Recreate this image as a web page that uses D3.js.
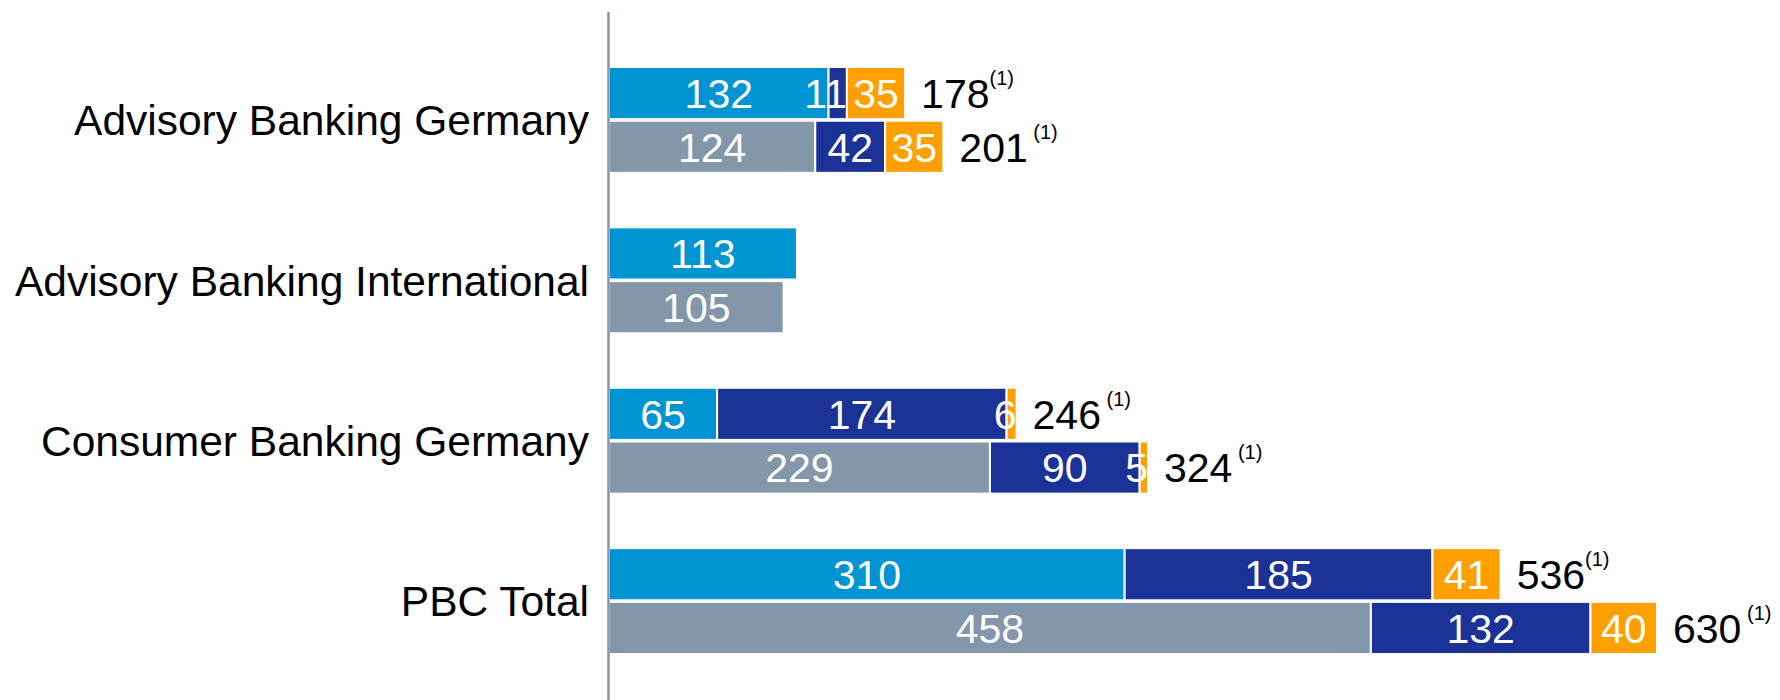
<!DOCTYPE html>
<html>
<head>
<meta charset="utf-8">
<style>
body { margin: 0; background: #fff; }
svg { display: block; font-family: "Liberation Sans", Arial, sans-serif; }
.total { white-space: pre; }
</style>
</head>
<body>
<svg width="1780" height="700"></svg>

<script src="https://d3js.org/d3.v7.min.js"></script>
<script>

// categories, top to bottom
var categories = ["Advisory Banking Germany", "Advisory Banking International", "Consumer Banking Germany", "PBC Total"];
var rows = ["upper", "lower"];
var keys = ["first", "second", "third"];

// upper bar of each pair
var upperFirst  = [132, 113, 65, 310];
var upperSecond = [11, null, 174, 185];
var upperThird  = [35, null, 6, 41];
var upperTotals = ["178", null, "246", "536"];
var upperNotes  = ["(1)", null, " (1)", "(1)"];

// lower bar of each pair
var lowerFirst  = [124, 105, 229, 458];
var lowerSecond = [42, null, 90, 132];
var lowerThird  = [35, null, 5, 40];
var lowerTotals = ["201", null, "324", "630"];
var lowerNotes  = [" (1)", null, " (1)", " (1)"];

var colors = {
  upper: { first: "#0094D3", second: "#1B3296", third: "#FFA000" },
  lower: { first: "#8497AA", second: "#1B3296", third: "#FFA000" }
};

var table = [];
categories.forEach(function(c, i) {
  table.push({ cat: c, row: "upper", first: upperFirst[i], second: upperSecond[i], third: upperThird[i],
               total: upperTotals[i], note: upperNotes[i] });
  table.push({ cat: c, row: "lower", first: lowerFirst[i], second: lowerSecond[i], third: lowerThird[i],
               total: lowerTotals[i], note: lowerNotes[i] });
});

var svg = d3.select("svg");

var x = d3.scaleLinear().domain([0, 630]).range([609, 1657]);

var y0 = d3.scaleBand().domain(categories).range([67, 654]).paddingInner(0.34).paddingOuter(0);
var y1 = d3.scaleBand().domain(rows).range([0, y0.bandwidth()]).paddingInner(0.03);

var stack = d3.stack().keys(keys).value(function(d, k) { return d[k] || 0; });
var series = stack(table);

// segments
var segs = [];
series.forEach(function(s) {
  s.forEach(function(p) {
    var v = p.data[s.key];
    if (v == null) return;
    segs.push({ key: s.key, row: p.data.row, cat: p.data.cat, v: v, x0: p[0], x1: p[1] });
  });
});

var g = svg.append("g");

g.selectAll("rect")
  .data(segs)
  .enter().append("rect")
  .attr("x", function(d) { return x(d.x0); })
  .attr("width", function(d) { return x(d.x1) - x(d.x0); })
  .attr("y", function(d) { return y0(d.cat) + y1(d.row); })
  .attr("height", y1.bandwidth())
  .attr("fill", function(d) { return colors[d.row][d.key]; })
  .attr("stroke", "#fff")
  .attr("stroke-width", 2);

// value labels inside segments
g.selectAll("text.val")
  .data(segs)
  .enter().append("text")
  .attr("class", "val")
  .attr("x", function(d) { return (x(d.x0) + x(d.x1)) / 2; })
  .attr("y", function(d) { return y0(d.cat) + y1(d.row) + y1.bandwidth() / 2; })
  .attr("dy", "0.36em")
  .attr("text-anchor", "middle")
  .attr("font-size", 41)
  .attr("fill", "#fff")
  .text(function(d) { return d.v; })
  .each(function(d) {
    // narrow segments: label sits flush with the segment's right end
    var w = this.getComputedTextLength();
    if (w > x(d.x1) - x(d.x0)) {
      d3.select(this).attr("text-anchor", "end").attr("x", x(d.x1));
    }
  });

// totals with footnote mark
var tot = g.selectAll("text.total")
  .data(table.filter(function(d) { return d.total != null; }))
  .enter().append("text")
  .attr("class", "total")
  .attr("x", function(d) { return x((d.first || 0) + (d.second || 0) + (d.third || 0)) + 16; })
  .attr("y", function(d) { return y0(d.cat) + y1(d.row) + y1.bandwidth() / 2; })
  .attr("font-size", 41)
  .attr("fill", "#000");

tot.append("tspan")
  .attr("dy", "0.36em")
  .text(function(d) { return d.total; });

tot.append("tspan")
  .attr("dy", -23)
  .attr("font-size", 20)
  .text(function(d) { return d.note; });

// category labels
svg.append("g").selectAll("text")
  .data(categories)
  .enter().append("text")
  .attr("x", 589)
  .attr("y", function(d) { return y0(d) + y0.bandwidth() / 2; })
  .attr("dy", "0.36em")
  .attr("text-anchor", "end")
  .attr("font-size", 42.5)
  .attr("fill", "#000")
  .text(function(d) { return d; });

// vertical axis line
svg.append("line")
  .attr("x1", 608.5).attr("x2", 608.5)
  .attr("y1", 12).attr("y2", 700)
  .attr("stroke", "#8497AA")
  .attr("stroke-width", 2.5);

</script>
</body>
</html>
